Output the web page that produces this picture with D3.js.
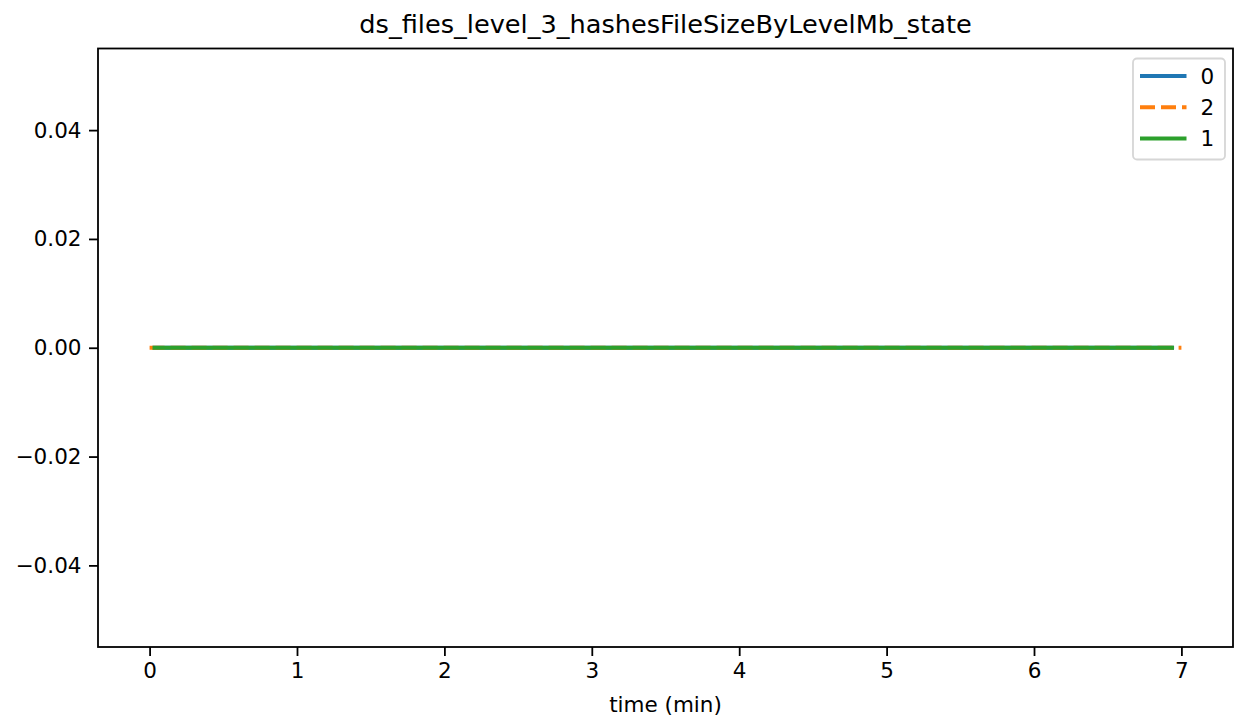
<!DOCTYPE html>
<html>
<head>
<meta charset="utf-8">
<script src="https://cdn.jsdelivr.net/npm/d3@7"></script>
<style>
  html, body { margin: 0; padding: 0; background: #fff; }
  svg { display: block; font-family: "DejaVu Sans", sans-serif; }
</style>
</head>
<body>
<svg id="chart" width="1237" height="721"></svg>
<script>
// ---- data ----
const seriesNames = ["0", "2", "1"];
const seriesColors = ["#1f77b4", "#ff7f0e", "#2ca02c"];
const seriesDashed = [false, true, false];
const time0 = [0.02, 1.0, 2.0, 3.0, 4.0, 5.0, 6.0, 6.95];
const values0 = [0, 0, 0, 0, 0, 0, 0, 0];
const time2 = [0.0, 1.0, 2.0, 3.0, 4.0, 5.0, 6.0, 7.0];
const values2 = [0, 0, 0, 0, 0, 0, 0, 0];
const time1 = [0.02, 1.0, 2.0, 3.0, 4.0, 5.0, 6.0, 6.95];
const values1 = [0, 0, 0, 0, 0, 0, 0, 0];
const xTicks = [0, 1, 2, 3, 4, 5, 6, 7];
const yTicks = [-0.04, -0.02, 0.0, 0.02, 0.04];
const titleText = "ds_files_level_3_hashesFileSizeByLevelMb_state";
const xLabelText = "time (min)";

const seriesData = [
  time0.map((t, i) => ({ t, v: values0[i] })),
  time2.map((t, i) => ({ t, v: values2[i] })),
  time1.map((t, i) => ({ t, v: values1[i] }))
];

// ---- layout ----
const plotLeft = 98, plotRight = 1233, plotTop = 48.5, plotBottom = 647;
const svg = d3.select("#chart");

const x = d3.scaleLinear().domain([-0.35, 7.35]).range([plotLeft, plotRight]);
const y = d3.scaleLinear().domain([-0.055, 0.055]).range([plotBottom, plotTop]);

const fmtY = v => {
  const s = Math.abs(v).toFixed(2);
  return (v < -1e-12 ? "\u2212" : "") + s;
};

// lines
const line = d3.line().x(d => x(d.t)).y(d => y(d.v));
const gLines = svg.append("g");
seriesData.forEach((data, i) => {
  gLines.append("path")
    .datum(data)
    .attr("d", line)
    .attr("fill", "none")
    .attr("stroke", seriesColors[i])
    .attr("stroke-width", 4)
    .attr("stroke-dasharray", seriesDashed[i] ? "15,6" : null)
    .attr("stroke-linecap", "butt");
});

// axes
const xAxis = d3.axisBottom(x).tickValues(xTicks).tickFormat(d3.format("d"))
  .tickSizeInner(9).tickSizeOuter(0).tickPadding(7);
const yAxis = d3.axisLeft(y).tickValues(yTicks).tickFormat(fmtY)
  .tickSizeInner(9).tickSizeOuter(0).tickPadding(7.5);

const gx = svg.append("g").attr("transform", `translate(0,${plotBottom})`).call(xAxis);
const gy = svg.append("g").attr("transform", `translate(${plotLeft},0)`).call(yAxis);
[gx, gy].forEach(g => {
  g.select(".domain").remove();
  g.selectAll(".tick line").attr("stroke", "#000").attr("stroke-width", 1.8);
  g.selectAll(".tick text").attr("fill", "#000")
    .style("font-family", "DejaVu Sans, sans-serif").style("font-size", "21.5px");
});

// frame
svg.append("rect")
  .attr("x", plotLeft).attr("y", plotTop)
  .attr("width", plotRight - plotLeft).attr("height", plotBottom - plotTop)
  .attr("fill", "none").attr("stroke", "#000").attr("stroke-width", 1.8);

// title and label
svg.append("text")
  .attr("x", (plotLeft + plotRight) / 2).attr("y", 32.5)
  .attr("text-anchor", "middle")
  .style("font-size", "25.6px")
  .text(titleText);

svg.append("text")
  .attr("x", (plotLeft + plotRight) / 2).attr("y", 712)
  .attr("text-anchor", "middle")
  .style("font-size", "21.5px")
  .text(xLabelText);

// legend
const lg = svg.append("g");
lg.append("rect")
  .attr("x", 1133).attr("y", 58.5).attr("width", 92).attr("height", 101)
  .attr("rx", 4).attr("ry", 4)
  .attr("fill", "#fff").attr("fill-opacity", 0.8)
  .attr("stroke", "#d6d6d6").attr("stroke-width", 1.8);
seriesNames.forEach((name, i) => {
  const cy = 76 + i * 31.3;
  lg.append("line")
    .attr("x1", 1140).attr("x2", 1186.5).attr("y1", cy).attr("y2", cy)
    .attr("stroke", seriesColors[i]).attr("stroke-width", 4)
    .attr("stroke-dasharray", seriesDashed[i] ? "15,6" : null);
  lg.append("text")
    .attr("x", 1200.5).attr("y", cy).attr("dy", "0.36em")
    .style("font-size", "21.5px")
    .text(name);
});
</script>
</body>
</html>
